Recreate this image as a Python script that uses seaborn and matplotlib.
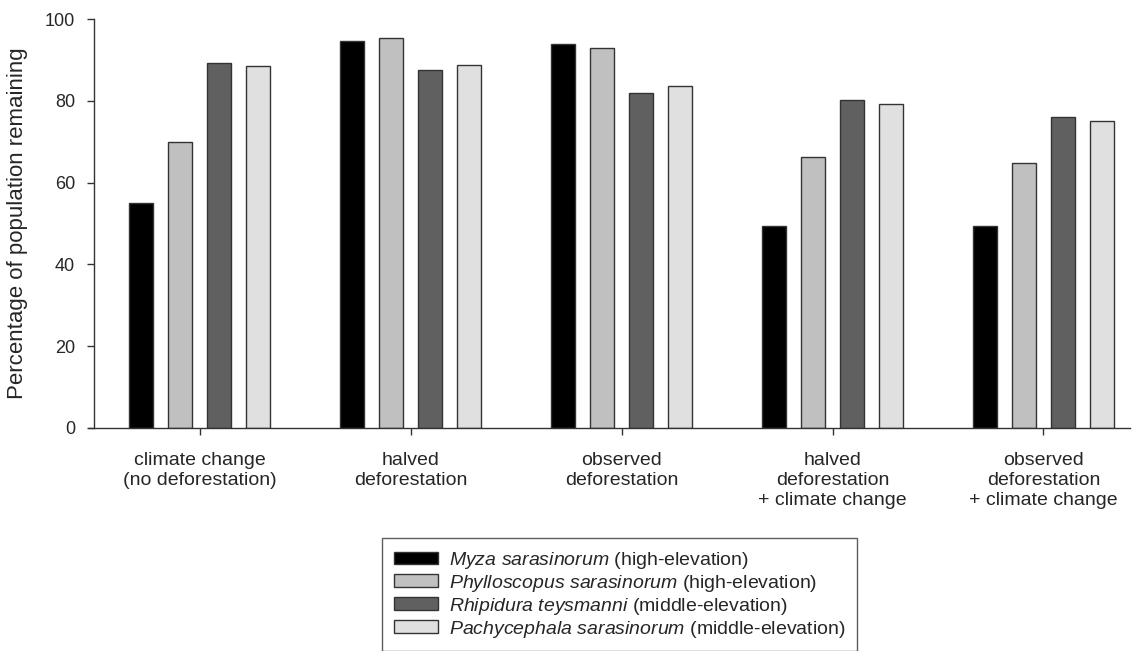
import matplotlib
matplotlib.use("Agg")
import matplotlib.pyplot as plt
import seaborn as sns
import pandas as pd

scenarios = [
    "climate change\n(no deforestation)",
    "halved\ndeforestation",
    "observed\ndeforestation",
    "halved\ndeforestation\n+ climate change",
    "observed\ndeforestation\n+ climate change",
]
species = ["Myza sarasinorum", "Phylloscopus sarasinorum",
           "Rhipidura teysmanni", "Pachycephala sarasinorum"]
elevation = ["high-elevation", "high-elevation",
             "middle-elevation", "middle-elevation"]
myza = [55.0, 94.6, 93.8, 49.5, 49.3]
phylloscopus = [70.0, 95.4, 93.0, 66.3, 64.9]
rhipidura = [89.3, 87.5, 81.9, 80.2, 76.0]
pachycephala = [88.4, 88.8, 83.6, 79.3, 75.1]
colors = ["#000000", "#c0c0c0", "#606060", "#e0e0e0"]

values = [myza, phylloscopus, rhipidura, pachycephala]
rows = []
for sp, vals in zip(species, values):
    for sc, v in zip(scenarios, vals):
        rows.append({"scenario": sc, "species": sp, "value": v})
df = pd.DataFrame(rows)

sns.set_theme(style="ticks")
plt.rcParams["font.family"] = ["Liberation Sans", "DejaVu Sans"]
plt.rcParams["mathtext.fontset"] = "custom"
plt.rcParams["mathtext.it"] = "Liberation Sans:italic"
plt.rcParams["mathtext.rm"] = "Liberation Sans"

fig = plt.figure(figsize=(11.37, 6.51), dpi=100)
ax = fig.add_axes([89 / 1137, 1 - 428 / 651, (1130 - 89) / 1137, (428 - 19) / 651])

sns.barplot(data=df, x="scenario", y="value", hue="species",
            order=scenarios, hue_order=species, palette=colors,
            width=0.74, gap=0.38, edgecolor="#333333", linewidth=1.0,
            saturation=1, ax=ax)

ax.set_ylim(0, 100)
ax.set_xlim(-0.524, 4.41)
ax.spines["left"].set_position(("data", -0.5))
ax.set_yticks([0, 20, 40, 60, 80, 100])
ax.set_xlabel("")
ax.set_ylabel("Percentage of population remaining", fontsize=16, labelpad=12)
ax.tick_params(axis="y", labelsize=13, direction="out", length=5, width=1, color="#333333", pad=8.6)
ax.tick_params(axis="x", labelsize=14, direction="out", length=5, width=1, color="#333333", pad=12)
for lbl in ax.get_xticklabels():
    lbl.set_linespacing(1.25)
for s in ["top", "right"]:
    ax.spines[s].set_visible(False)
for s in ["left", "bottom"]:
    ax.spines[s].set_color("#333333")
    ax.spines[s].set_linewidth(1)

handles, _ = ax.get_legend_handles_labels()
if ax.get_legend() is not None:
    ax.get_legend().remove()
labels = []
for sp, el in zip(species, elevation):
    name = sp.replace(" ", r"\ ")
    labels.append(r"$\it{" + name + r"}$ (" + el + ")")
leg = fig.legend(handles, labels, loc="upper left",
                 bbox_to_anchor=(382 / 1137, 1 - 538 / 651),
                 fontsize=14, frameon=True, fancybox=False, shadow=False,
                 handlelength=2.3, handleheight=0.62, handletextpad=0.55,
                 labelspacing=0.1, borderpad=0.6, borderaxespad=0)
leg.get_frame().set_edgecolor("#333333")
leg.get_frame().set_linewidth(1)

fig.savefig("out.png", dpi=100)
